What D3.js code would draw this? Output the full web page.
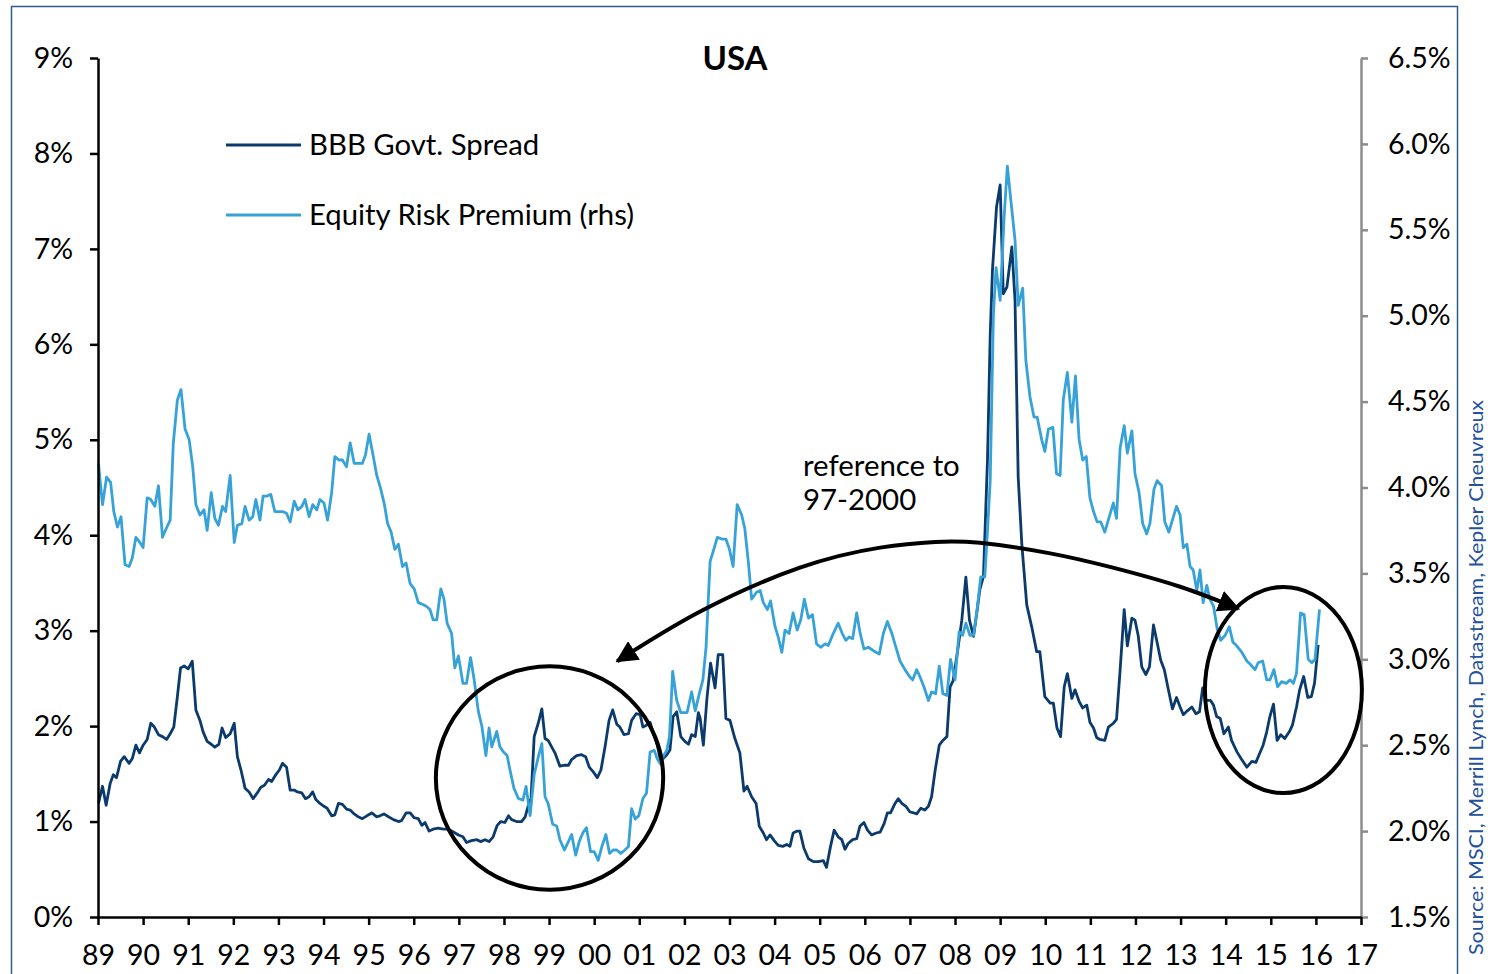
<!DOCTYPE html>
<html>
<head>
<meta charset="utf-8">
<script src="https://cdn.jsdelivr.net/npm/d3@7"></script>
<style>
  body { margin: 0; background: #ffffff; }
  svg { display: block; }
  text { font-family: Lato, "Open Sans", "DejaVu Sans", sans-serif; fill: #000; }
</style>
</head>
<body>
<svg id="chart" width="1488" height="974"></svg>
<script>
// ---------------- DATA ----------------
const chartTitle = "USA";
const seriesNames = ["BBB Govt. Spread", "Equity Risk Premium (rhs)"];
const sourceText = "Source: MSCI, Merrill Lynch, Datastream, Kepler Cheuvreux";
const annotationLines = ["reference to", "97-2000"];

const yearTicks = d3.range(1989, 2018);                 // 89 ... 17
const leftTicks = [0, 1, 2, 3, 4, 5, 6, 7, 8, 9];        // %
const rightTicks = [1.5, 2.0, 2.5, 3.0, 3.5, 4.0, 4.5, 5.0, 5.5, 6.0, 6.5]; // %

// BBB Govt. Spread, left axis (%)  [decimal year, value]
const bbbSpread = [
[1989.01,1.19],[1989.10,1.37],[1989.18,1.17],[1989.27,1.40],[1989.34,1.49],[1989.41,1.46],
[1989.50,1.63],[1989.58,1.68],[1989.69,1.61],[1989.76,1.66],[1989.84,1.80],[1989.92,1.72],
[1990.00,1.80],[1990.09,1.86],[1990.17,2.03],[1990.25,1.99],[1990.34,1.91],[1990.43,1.89],
[1990.52,1.86],[1990.60,1.92],[1990.68,1.99],[1990.76,2.31],[1990.83,2.61],[1990.91,2.63],
[1991.00,2.60],[1991.09,2.68],[1991.17,2.17],[1991.26,2.06],[1991.33,1.94],[1991.42,1.84],
[1991.51,1.81],[1991.59,1.78],[1991.68,1.81],[1991.75,1.98],[1991.83,1.88],[1991.93,1.92],
[1992.02,2.03],[1992.09,1.68],[1992.17,1.54],[1992.26,1.35],[1992.35,1.31],[1992.44,1.24],
[1992.53,1.30],[1992.61,1.36],[1992.69,1.38],[1992.78,1.44],[1992.85,1.42],[1992.94,1.49],
[1993.02,1.54],[1993.09,1.61],[1993.18,1.57],[1993.26,1.33],[1993.35,1.33],[1993.42,1.31],
[1993.52,1.30],[1993.60,1.24],[1993.68,1.26],[1993.76,1.31],[1993.83,1.23],[1993.92,1.19],
[1994.01,1.16],[1994.08,1.14],[1994.18,1.06],[1994.25,1.07],[1994.33,1.19],[1994.42,1.18],
[1994.51,1.13],[1994.59,1.12],[1994.68,1.08],[1994.77,1.05],[1994.86,1.03],[1994.96,1.06],
[1995.07,1.09],[1995.18,1.05],[1995.25,1.06],[1995.34,1.08],[1995.44,1.05],[1995.55,1.02],
[1995.66,1.00],[1995.73,1.01],[1995.83,1.09],[1995.92,1.09],[1996.01,1.04],[1996.10,1.03],
[1996.18,0.96],[1996.25,0.99],[1996.34,0.90],[1996.43,0.92],[1996.54,0.93],[1996.66,0.92],
[1996.77,0.92],[1996.88,0.89],[1996.99,0.86],[1997.09,0.84],[1997.17,0.78],[1997.28,0.80],
[1997.40,0.81],[1997.48,0.79],[1997.58,0.81],[1997.67,0.79],[1997.76,0.84],[1997.85,0.96],
[1997.93,1.00],[1998.02,0.99],[1998.10,1.06],[1998.17,1.02],[1998.28,1.00],[1998.39,1.00],
[1998.47,1.05],[1998.54,1.17],[1998.60,1.24],[1998.67,1.89],[1998.76,2.03],[1998.84,2.18],
[1998.91,1.87],[1998.98,1.85],[1999.06,1.78],[1999.13,1.72],[1999.24,1.58],[1999.35,1.59],
[1999.43,1.59],[1999.50,1.65],[1999.61,1.69],[1999.72,1.70],[1999.81,1.68],[1999.89,1.57],
[1999.98,1.52],[2000.07,1.46],[2000.15,1.54],[2000.24,1.78],[2000.33,2.06],[2000.41,2.17],
[2000.50,2.02],[2000.57,1.99],[2000.66,1.91],[2000.76,1.92],[2000.83,2.06],[2000.93,2.13],
[2001.02,2.12],[2001.08,1.99],[2001.16,2.01],[2001.24,2.04],[2001.31,1.92],[2001.39,1.82],
[2001.46,1.66],[2001.53,1.66],[2001.61,1.70],[2001.68,1.75],[2001.75,2.10],[2001.83,2.15],
[2001.92,1.89],[2002.01,1.84],[2002.09,1.81],[2002.16,1.91],[2002.24,1.89],[2002.31,2.14],
[2002.35,2.08],[2002.42,1.80],[2002.50,2.29],[2002.58,2.66],[2002.68,2.40],[2002.75,2.75],
[2002.85,2.75],[2002.92,2.08],[2003.01,2.06],[2003.12,1.87],[2003.23,1.72],[2003.32,1.32],
[2003.39,1.37],[2003.49,1.26],[2003.59,1.19],[2003.66,0.95],[2003.75,0.88],[2003.82,0.81],
[2003.90,0.86],[2003.99,0.80],[2004.08,0.75],[2004.18,0.74],[2004.27,0.76],[2004.34,0.74],
[2004.41,0.88],[2004.50,0.90],[2004.56,0.90],[2004.65,0.72],[2004.75,0.61],[2004.86,0.58],
[2004.97,0.58],[2005.08,0.59],[2005.15,0.52],[2005.24,0.74],[2005.32,0.91],[2005.41,0.84],
[2005.49,0.81],[2005.56,0.71],[2005.63,0.77],[2005.73,0.81],[2005.82,0.82],[2005.89,0.95],
[2005.98,0.99],[2006.06,0.91],[2006.15,0.86],[2006.25,0.88],[2006.34,0.89],[2006.43,0.98],
[2006.50,1.09],[2006.57,1.09],[2006.67,1.19],[2006.74,1.24],[2006.82,1.19],[2006.91,1.16],
[2007.00,1.10],[2007.09,1.09],[2007.15,1.08],[2007.24,1.14],[2007.33,1.12],[2007.41,1.16],
[2007.48,1.26],[2007.56,1.54],[2007.65,1.80],[2007.73,1.85],[2007.82,1.89],[2007.89,2.41],
[2007.96,2.48],[2008.07,2.83],[2008.15,3.11],[2008.24,3.56],[2008.32,3.11],[2008.41,2.94],
[2008.48,3.18],[2008.55,3.43],[2008.63,3.57],[2008.72,4.80],[2008.78,6.10],[2008.83,6.78],
[2008.92,7.44],[2009.00,7.67],[2009.07,6.53],[2009.15,6.60],[2009.26,7.02],[2009.33,6.46],
[2009.40,4.61],[2009.48,3.91],[2009.59,3.27],[2009.70,3.04],[2009.81,2.78],[2009.88,2.78],
[2009.99,2.31],[2010.11,2.24],[2010.18,2.24],[2010.26,1.98],[2010.34,1.89],[2010.42,2.41],
[2010.49,2.55],[2010.59,2.29],[2010.66,2.38],[2010.75,2.26],[2010.83,2.19],[2010.92,2.22],
[2010.99,2.04],[2011.07,1.98],[2011.14,1.88],[2011.21,1.86],[2011.32,1.85],[2011.40,1.99],
[2011.51,2.03],[2011.58,2.07],[2011.66,2.59],[2011.75,3.22],[2011.82,2.84],[2011.92,3.13],
[2011.99,3.11],[2012.06,2.95],[2012.14,2.62],[2012.23,2.54],[2012.31,2.62],[2012.40,3.06],
[2012.47,2.90],[2012.56,2.69],[2012.64,2.59],[2012.73,2.38],[2012.82,2.18],[2012.91,2.30],
[2012.99,2.20],[2013.06,2.12],[2013.15,2.16],[2013.25,2.20],[2013.34,2.13],[2013.42,2.15],
[2013.49,2.40],[2013.57,2.27],[2013.66,2.27],[2013.73,2.22],[2013.80,2.10],[2013.88,2.08],
[2013.96,1.92],[2014.06,1.99],[2014.13,1.85],[2014.25,1.73],[2014.34,1.66],[2014.47,1.57],
[2014.58,1.63],[2014.67,1.62],[2014.75,1.71],[2014.83,1.80],[2014.91,1.94],[2014.98,2.10],
[2015.06,2.23],[2015.14,1.85],[2015.22,1.91],[2015.31,1.87],[2015.41,1.94],[2015.48,2.01],
[2015.57,2.20],[2015.64,2.38],[2015.73,2.52],[2015.82,2.30],[2015.90,2.31],[2015.97,2.45],
[2016.05,2.85]
];

// Equity Risk Premium, right axis (%)  [decimal year, value]
const equityRiskPremium = [
[1989.01,4.14],[1989.10,3.90],[1989.19,4.06],[1989.28,4.03],[1989.35,3.86],[1989.43,3.77],
[1989.51,3.83],[1989.60,3.55],[1989.69,3.54],[1989.76,3.59],[1989.84,3.71],[1989.93,3.68],
[1990.00,3.65],[1990.09,3.94],[1990.17,3.93],[1990.26,3.89],[1990.34,4.01],[1990.43,3.71],
[1990.51,3.76],[1990.60,3.81],[1990.67,4.26],[1990.76,4.51],[1990.84,4.57],[1990.93,4.34],
[1991.02,4.28],[1991.10,4.12],[1991.17,3.90],[1991.26,3.84],[1991.35,3.87],[1991.42,3.75],
[1991.51,3.97],[1991.59,3.82],[1991.67,3.78],[1991.76,3.89],[1991.83,3.86],[1991.93,4.07],
[1992.02,3.68],[1992.09,3.78],[1992.19,3.79],[1992.26,3.89],[1992.35,3.81],[1992.43,3.83],
[1992.50,3.93],[1992.59,3.81],[1992.66,3.95],[1992.75,3.95],[1992.83,3.96],[1992.92,3.86],
[1993.01,3.86],[1993.09,3.86],[1993.18,3.85],[1993.26,3.80],[1993.35,3.92],[1993.43,3.87],
[1993.52,3.89],[1993.59,3.93],[1993.68,3.83],[1993.76,3.90],[1993.85,3.87],[1993.92,3.93],
[1994.01,3.91],[1994.09,3.81],[1994.18,3.97],[1994.25,4.18],[1994.34,4.16],[1994.42,4.16],
[1994.51,4.12],[1994.59,4.26],[1994.68,4.14],[1994.77,4.14],[1994.86,4.14],[1994.93,4.19],
[1995.01,4.31],[1995.09,4.20],[1995.18,4.07],[1995.27,3.99],[1995.35,3.90],[1995.42,3.79],
[1995.50,3.74],[1995.58,3.64],[1995.66,3.67],[1995.75,3.54],[1995.83,3.56],[1995.92,3.44],
[1996.01,3.41],[1996.10,3.33],[1996.19,3.32],[1996.27,3.31],[1996.36,3.29],[1996.43,3.23],
[1996.51,3.23],[1996.60,3.41],[1996.67,3.35],[1996.74,3.21],[1996.84,3.15],[1996.91,2.95],
[1996.99,3.02],[1997.09,2.86],[1997.17,2.86],[1997.26,3.01],[1997.34,2.88],[1997.43,2.70],
[1997.51,2.61],[1997.60,2.44],[1997.67,2.60],[1997.73,2.49],[1997.84,2.58],[1997.91,2.49],
[1997.99,2.46],[1998.07,2.44],[1998.13,2.36],[1998.22,2.25],[1998.32,2.19],[1998.42,2.18],
[1998.49,2.26],[1998.58,2.09],[1998.67,2.33],[1998.76,2.43],[1998.84,2.51],[1998.91,2.20],
[1998.98,2.16],[1999.08,2.04],[1999.17,2.03],[1999.24,1.95],[1999.34,1.89],[1999.43,1.94],
[1999.50,1.98],[1999.59,1.86],[1999.67,1.94],[1999.75,1.99],[1999.83,2.02],[1999.92,1.88],
[2000.00,1.88],[2000.09,1.83],[2000.17,1.91],[2000.26,1.98],[2000.34,1.87],[2000.42,1.89],
[2000.50,1.89],[2000.59,1.87],[2000.68,1.89],[2000.76,1.91],[2000.83,2.13],[2000.91,2.07],
[2000.99,2.09],[2001.08,2.19],[2001.16,2.22],[2001.24,2.46],[2001.33,2.47],[2001.40,2.42],
[2001.47,2.39],[2001.54,2.44],[2001.61,2.47],[2001.67,2.55],[2001.74,2.93],[2001.83,2.76],
[2001.92,2.69],[2002.06,2.69],[2002.16,2.81],[2002.24,2.70],[2002.33,2.80],[2002.41,2.88],
[2002.48,3.07],[2002.57,3.57],[2002.64,3.63],[2002.73,3.71],[2002.83,3.70],[2002.92,3.70],
[2003.00,3.64],[2003.08,3.54],[2003.17,3.90],[2003.27,3.84],[2003.34,3.76],[2003.42,3.56],
[2003.49,3.35],[2003.60,3.39],[2003.68,3.40],[2003.75,3.33],[2003.84,3.29],[2003.91,3.34],
[2004.01,3.19],[2004.08,3.13],[2004.16,3.04],[2004.23,3.17],[2004.32,3.15],[2004.41,3.27],
[2004.50,3.17],[2004.58,3.23],[2004.66,3.35],[2004.75,3.24],[2004.84,3.26],[2004.93,3.09],
[2005.02,3.07],[2005.12,3.09],[2005.19,3.08],[2005.30,3.15],[2005.41,3.21],[2005.50,3.15],
[2005.58,3.11],[2005.65,3.13],[2005.73,3.12],[2005.82,3.27],[2005.89,3.16],[2005.98,3.06],
[2006.08,3.07],[2006.19,3.05],[2006.32,3.03],[2006.41,3.15],[2006.50,3.22],[2006.60,3.15],
[2006.69,3.07],[2006.78,2.99],[2006.89,2.94],[2006.99,2.90],[2007.06,2.88],[2007.15,2.94],
[2007.22,2.90],[2007.31,2.84],[2007.41,2.76],[2007.48,2.81],[2007.57,2.80],[2007.65,2.96],
[2007.73,2.80],[2007.82,2.79],[2007.90,3.00],[2008.00,2.88],[2008.09,3.16],[2008.17,3.14],
[2008.24,3.21],[2008.33,3.14],[2008.41,3.14],[2008.48,3.27],[2008.57,3.48],[2008.66,3.48],
[2008.72,3.75],[2008.78,4.04],[2008.85,5.00],[2008.91,5.28],[2009.00,5.09],[2009.09,5.58],
[2009.16,5.87],[2009.23,5.69],[2009.33,5.44],[2009.40,5.06],[2009.50,5.16],[2009.57,4.74],
[2009.66,4.53],[2009.75,4.41],[2009.82,4.41],[2009.92,4.28],[2009.99,4.21],[2010.07,4.34],
[2010.17,4.35],[2010.25,4.08],[2010.33,4.07],[2010.40,4.51],[2010.49,4.67],[2010.59,4.38],
[2010.67,4.65],[2010.75,4.28],[2010.83,4.16],[2010.91,4.18],[2010.99,3.94],[2011.07,3.86],
[2011.15,3.80],[2011.23,3.80],[2011.32,3.74],[2011.42,3.83],[2011.51,3.91],[2011.58,3.82],
[2011.66,4.23],[2011.75,4.36],[2011.82,4.20],[2011.92,4.33],[2011.99,4.08],[2012.08,3.97],
[2012.16,3.79],[2012.25,3.73],[2012.32,3.79],[2012.41,3.99],[2012.48,4.04],[2012.58,4.01],
[2012.65,3.80],[2012.74,3.74],[2012.83,3.82],[2012.91,3.89],[2012.99,3.84],[2013.06,3.65],
[2013.14,3.67],[2013.21,3.54],[2013.28,3.52],[2013.36,3.40],[2013.43,3.52],[2013.50,3.33],
[2013.58,3.43],[2013.65,3.35],[2013.73,3.31],[2013.81,3.18],[2013.89,3.11],[2013.99,3.14],
[2014.08,3.19],[2014.16,3.10],[2014.24,3.08],[2014.36,3.04],[2014.47,2.99],[2014.55,2.97],
[2014.65,2.94],[2014.72,2.98],[2014.82,2.99],[2014.91,2.88],[2014.98,2.88],[2015.07,2.94],
[2015.15,2.84],[2015.24,2.87],[2015.34,2.86],[2015.43,2.88],[2015.50,2.86],[2015.57,2.92],
[2015.66,3.27],[2015.74,3.26],[2015.83,3.00],[2015.91,2.98],[2015.98,3.00],[2016.08,3.29]
];

// Annotation shapes, in data units (year, left-axis %)
const highlightEllipses = [
  { year: 1999.01, value: 1.456, rxYears: 2.52, ryPct: 1.17 },
  { year: 2015.28, value: 2.378, rxYears: 1.74, ryPct: 1.08 }
];
const arrowPath = [
  [2000.51,2.68],[2002.35,3.20],[2004.56,3.66],[2006.34,3.87],[2007.56,3.93],
  [2008.55,3.92],[2010.11,3.81],[2011.50,3.66],[2012.99,3.46],[2014.28,3.23]
];
const annotationAnchor = { year: 2004.63, value: 4.62 };

// ---------------- CHART ----------------
const COLORS = { bbb: "#0b3a6c", erp: "#36a2d8", rightAxis: "#8c8c8c", frame: "#2d5c8e", source: "#24529e" };
const TICK_FONT = "28.5px";

const svg = d3.select("#chart");
const margin = { left: 98, right: 1361, top: 58, bottom: 917 };

const x = d3.scaleLinear().domain([1989, 2017]).range([margin.left, margin.right]);
const yL = d3.scaleLinear().domain([0, 9]).range([margin.bottom, margin.top]);
const yR = d3.scaleLinear().domain([1.5, 6.5]).range([margin.bottom, margin.top]);

// frame
svg.append("rect")
  .attr("x", 11.5).attr("y", 6.5).attr("width", 1446).attr("height", 1000)
  .attr("fill", "none").attr("stroke", COLORS.frame).attr("stroke-width", 1.5);

// series
const lineL = d3.line().x(d => x(d[0])).y(d => yL(d[1]));
const lineR = d3.line().x(d => x(d[0])).y(d => yR(d[1]));

svg.append("path").datum(bbbSpread)
  .attr("d", lineL).attr("fill", "none")
  .attr("stroke", COLORS.bbb).attr("stroke-width", 2.8).attr("stroke-linejoin", "round");

svg.append("path").datum(equityRiskPremium)
  .attr("d", lineR).attr("fill", "none")
  .attr("stroke", COLORS.erp).attr("stroke-width", 2.8).attr("stroke-linejoin", "round");

// axes
function styleAxis(g, color) {
  g.selectAll("path.domain").attr("stroke", color).attr("stroke-width", 2.5);
  g.selectAll(".tick line").attr("stroke", color).attr("stroke-width", 2.5);
  g.selectAll(".tick text").style("font-family", "Lato, 'Open Sans', sans-serif")
    .style("font-size", TICK_FONT).attr("fill", "#000");
}

const gL = svg.append("g").attr("transform", `translate(${margin.left},0)`)
  .call(d3.axisLeft(yL).tickValues(leftTicks).tickFormat(d => d + "%")
    .tickSize(8).tickSizeOuter(0).tickPadding(17));
styleAxis(gL, "#000");

const gR = svg.append("g").attr("transform", `translate(${margin.right},0)`)
  .call(d3.axisRight(yR).tickValues(rightTicks).tickFormat(d => d.toFixed(1) + "%")
    .tickSize(7).tickSizeOuter(0).tickPadding(20));
styleAxis(gR, COLORS.rightAxis);

const gX = svg.append("g").attr("transform", `translate(0,${margin.bottom})`)
  .call(d3.axisBottom(x).tickValues(yearTicks)
    .tickFormat(d => String(d % 100).padStart(2, "0"))
    .tickSize(8).tickSizeOuter(0).tickPadding(20));
styleAxis(gX, "#000");

// title
svg.append("text").attr("x", 735).attr("y", 70).attr("text-anchor", "middle")
  .style("font-size", "33px").style("font-weight", "700").text(chartTitle);

// legend
const legend = svg.append("g");
[[COLORS.bbb, 145], [COLORS.erp, 215]].forEach(([c, ly], i) => {
  legend.append("line").attr("x1", 226).attr("x2", 301).attr("y1", ly).attr("y2", ly)
    .attr("stroke", c).attr("stroke-width", 2.8);
  legend.append("text").attr("x", 309).attr("y", ly + 10)
    .style("font-size", "29.3px").text(seriesNames[i]);
});

// annotation text
const ann = svg.append("text").attr("x", x(annotationAnchor.year)).attr("y", yL(annotationAnchor.value))
  .style("font-size", "29.4px");
annotationLines.forEach((t, i) => {
  ann.append("tspan").attr("x", x(annotationAnchor.year)).attr("dy", i === 0 ? 0 : 34).text(t);
});

// ellipses
svg.selectAll("ellipse.hl").data(highlightEllipses).join("ellipse")
  .attr("class", "hl")
  .attr("cx", d => x(d.year)).attr("cy", d => yL(d.value))
  .attr("rx", d => x(d.year + d.rxYears) - x(d.year))
  .attr("ry", d => yL(d.value - d.ryPct) - yL(d.value))
  .attr("fill", "none").attr("stroke", "#000").attr("stroke-width", 4);

// double-headed arrow
const defs = svg.append("defs");
defs.append("marker").attr("id", "head")
  .attr("viewBox", "0 0 22 22").attr("refX", 20).attr("refY", 11)
  .attr("markerWidth", 22).attr("markerHeight", 22)
  .attr("markerUnits", "userSpaceOnUse").attr("orient", "auto-start-reverse")
  .append("path").attr("d", "M0,0 L22,11 L0,22 Z").attr("fill", "#000");

svg.append("path").datum(arrowPath)
  .attr("d", d3.line().x(d => x(d[0])).y(d => yL(d[1])).curve(d3.curveNatural))
  .attr("fill", "none").attr("stroke", "#000").attr("stroke-width", 4)
  .attr("marker-start", "url(#head)").attr("marker-end", "url(#head)");

// source (rotated)
svg.append("text")
  .attr("transform", "translate(1483,955) rotate(-90)")
  .attr("text-anchor", "start")
  .attr("textLength", 555).attr("lengthAdjust", "spacingAndGlyphs")
  .style("font-size", "20px").style("fill", COLORS.source)
  .text(sourceText);
</script>
</body>
</html>
